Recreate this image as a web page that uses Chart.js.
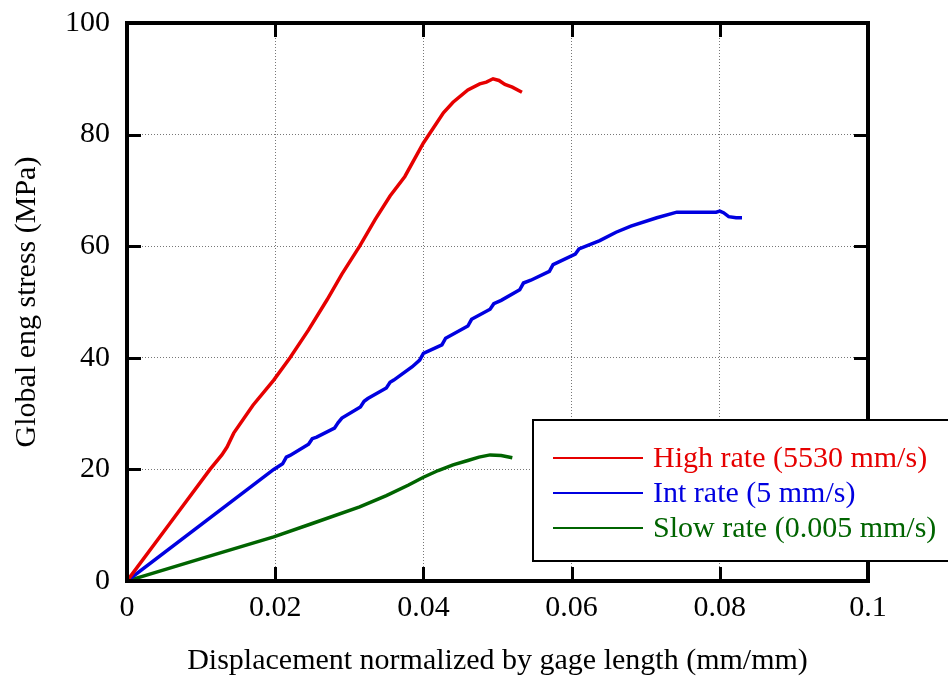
<!DOCTYPE html>
<html>
<head>
<meta charset="utf-8">
<script src="https://cdn.jsdelivr.net/npm/chart.js@4.4.1/dist/chart.umd.min.js"></script>
<style>
    html, body { margin: 0; padding: 0; background: #fff; }
    #wrap { width: 948px; height: 679px; position: relative; }
</style>
</head>
<body>
<div id="wrap"><canvas id="stress-chart" width="948" height="679"></canvas></div>
<script>
// Displacement normalized by gage length (x) vs global eng stress in MPa (y)
const highX = [0, 0.006, 0.0112, 0.0128, 0.0135, 0.0144, 0.017, 0.0198, 0.022, 0.0245, 0.027, 0.029, 0.0314, 0.0335, 0.0355, 0.0375, 0.040, 0.0415, 0.0427, 0.0440, 0.046, 0.0476, 0.0485, 0.0494, 0.0502, 0.051, 0.052, 0.0533];
const highY = [0, 10.7, 20, 22.6, 24, 26.5, 31.5, 36, 40, 45, 50.4, 55, 60, 64.8, 69, 72.5, 78.5, 81.5, 83.9, 85.8, 88, 89.1, 89.4, 90, 89.7, 89, 88.5, 87.6];

const intX = [0, 0.0198, 0.021, 0.0215, 0.022, 0.0245, 0.0250, 0.0256, 0.028, 0.0285, 0.029, 0.0315, 0.032, 0.0325, 0.035, 0.0355, 0.036, 0.0385, 0.0395, 0.040, 0.0425, 0.043, 0.046, 0.0465, 0.049, 0.0495, 0.0505, 0.053, 0.0535, 0.0545, 0.057, 0.0575, 0.0605, 0.061, 0.0638, 0.066, 0.068, 0.0715, 0.0742, 0.0765, 0.0795, 0.0800, 0.0805, 0.0812, 0.0822, 0.083];
const intY = [0, 20, 21, 22.2, 22.5, 24.5, 25.5, 25.8, 27.4, 28.4, 29.2, 31.2, 32.2, 32.7, 34.6, 35.6, 36, 38.4, 39.6, 40.8, 42.3, 43.5, 45.7, 46.9, 48.7, 49.7, 50.3, 52.2, 53.4, 53.9, 55.5, 56.7, 58.6, 59.5, 61, 62.5, 63.6, 65.1, 66.1, 66.1, 66.1, 66.3, 66, 65.3, 65.1, 65.1];

const slowX = [0, 0.01, 0.0198, 0.025, 0.0314, 0.035, 0.038, 0.040, 0.042, 0.044, 0.046, 0.0475, 0.049, 0.0505, 0.052];
const slowY = [0, 4, 7.9, 10.3, 13.3, 15.3, 17.2, 18.6, 19.8, 20.8, 21.6, 22.2, 22.6, 22.5, 22.1];

const seriesLabels = ['High rate (5530 mm/s)', 'Int rate (5 mm/s)', 'Slow rate (0.005 mm/s)'];
const seriesColors = ['#e60000', '#0000e0', '#006400'];

const xTicks = [0, 0.02, 0.04, 0.06, 0.08, 0.1];
const yTicks = [0, 20, 40, 60, 80, 100];

const serif = '"Liberation Serif", "Times New Roman", serif';

function toPoints(xs, ys) {
    return xs.map((x, i) => ({ x, y: ys[i] }));
}

// Thick frame, inward tick marks and the boxed legend
const framePlugin = {
    id: 'frame',
    afterDatasetsDraw(chart) {
        const { ctx, chartArea: a, scales } = chart;
        ctx.save();
        ctx.strokeStyle = '#000';
        ctx.lineWidth = 3;
        ctx.beginPath();
        xTicks.forEach((v) => {
            const px = Math.round(scales.x.getPixelForValue(v)) + 0.5;
            ctx.moveTo(px, a.bottom); ctx.lineTo(px, a.bottom - 14);
            ctx.moveTo(px, a.top); ctx.lineTo(px, a.top + 14);
        });
        yTicks.forEach((v) => {
            const py = Math.round(scales.y.getPixelForValue(v)) + 0.5;
            ctx.moveTo(a.left, py); ctx.lineTo(a.left + 14, py);
            ctx.moveTo(a.right, py); ctx.lineTo(a.right - 14, py);
        });
        ctx.stroke();

        ctx.lineWidth = 4;
        ctx.strokeRect(a.left, a.top, a.right - a.left, a.bottom - a.top);

        // legend
        const lx = 533, ly = 420, lw = 430, lh = 141;
        ctx.fillStyle = '#fff';
        ctx.fillRect(lx, ly, lw, lh);
        ctx.lineWidth = 2;
        ctx.strokeRect(lx, ly, lw, lh);
        ctx.font = '30px ' + serif;
        ctx.textBaseline = 'middle';
        ctx.textAlign = 'left';
        chart.data.datasets.forEach((ds, i) => {
            const y = 458 + i * 35;
            ctx.strokeStyle = ds.borderColor;
            ctx.lineWidth = 2;
            ctx.beginPath();
            ctx.moveTo(553, y);
            ctx.lineTo(643, y);
            ctx.stroke();
            ctx.fillStyle = ds.borderColor;
            ctx.fillText(ds.label, 653, y + 1);
        });
        ctx.restore();
    },
};

const ctx = document.getElementById('stress-chart').getContext('2d');
new Chart(ctx, {
    type: 'scatter',
    data: {
        datasets: [
            { label: seriesLabels[0], data: toPoints(highX, highY) },
            { label: seriesLabels[1], data: toPoints(intX, intY) },
            { label: seriesLabels[2], data: toPoints(slowX, slowY) },
        ].map((ds, i) => ({
            ...ds,
            borderColor: seriesColors[i],
            backgroundColor: seriesColors[i],
            showLine: true,
            borderWidth: 3.5,
            pointRadius: 0,
            tension: 0,
        })),
    },
    options: {
        responsive: false,
        animation: false,
        layout: { padding: { top: 23, right: 80, left: 0, bottom: 0 } },
        plugins: {
            legend: { display: false },
            tooltip: { enabled: false },
        },
        scales: {
            x: {
                type: 'linear',
                min: 0,
                max: 0.1,
                afterFit: (s) => { s.height = 98; s.paddingLeft = 0; s.paddingRight = 0; },
                afterBuildTicks: (s) => { s.ticks = xTicks.map((v) => ({ value: v })); },
                grid: { color: '#777', lineWidth: 1, drawTicks: false },
                border: { display: false, dash: [1, 2] },
                ticks: {
                    padding: 9,
                    color: '#000',
                    font: { family: serif, size: 30 },
                    callback: (v) => String(Number(v.toFixed(2))),
                },
                title: {
                    display: true,
                    text: 'Displacement normalized by gage length (mm/mm)',
                    color: '#000',
                    font: { family: serif, size: 30 },
                    padding: { top: 0, bottom: 0 },
                },
            },
            y: {
                type: 'linear',
                min: 0,
                max: 100,
                afterFit: (s) => { s.width = 127; s.paddingTop = 0; s.paddingBottom = 0; },
                afterBuildTicks: (s) => { s.ticks = yTicks.map((v) => ({ value: v })); },
                grid: { color: '#777', lineWidth: 1, drawTicks: false },
                border: { display: false, dash: [1, 2] },
                ticks: {
                    padding: 17,
                    color: '#000',
                    font: { family: serif, size: 30 },
                },
                title: {
                    display: true,
                    text: 'Global eng stress (MPa)',
                    color: '#000',
                    font: { family: serif, size: 30 },
                    padding: { top: 9, bottom: 0 },
                },
            },
        },
    },
    plugins: [framePlugin],
});
</script>
</body>
</html>
